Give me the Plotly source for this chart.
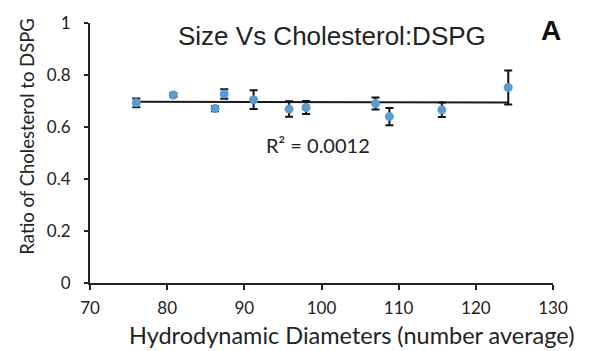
import plotly.graph_objects as go

diameters = [76.0, 80.8, 86.2, 87.4, 91.2, 95.8, 98.0, 107.0, 108.8, 115.6, 124.2]
ratios = [0.693, 0.723, 0.671, 0.727, 0.705, 0.669, 0.675, 0.690, 0.640, 0.666, 0.752]
errors = [0.017, 0.008, 0.010, 0.018, 0.036, 0.030, 0.025, 0.023, 0.033, 0.028, 0.065]
trend_x = [76.0, 124.2]
trend_y = [0.697, 0.694]
x_ticks = [70, 80, 90, 100, 110, 120, 130]
y_ticks = [0, 0.2, 0.4, 0.6, 0.8, 1]
y_tick_labels = ["0", "0.2", "0.4", "0.6", "0.8", "1"]

L, R, T, B = 90, 39, 13, 68
W, H = 592, 351

fig = go.Figure()
fig.add_trace(go.Scatter(x=trend_x, y=trend_y, mode="lines",
                         line=dict(color="#1a1a1a", width=2), showlegend=False))
fig.add_trace(go.Scatter(
    x=diameters, y=ratios, mode="markers",
    marker=dict(color="#5B9BD5", size=9),
    error_y=dict(type="data", array=errors, color="#111111", thickness=2, width=4),
    showlegend=False))

lato = "Lato, Open Sans, sans-serif"
axis_font = dict(family=lato, size=17, color="#222222")
fig.update_layout(
    width=W, height=H,
    margin=dict(l=L, r=R, t=T, b=B),
    paper_bgcolor="white", plot_bgcolor="white",
    xaxis=dict(range=[70, 130], tickvals=x_ticks, showgrid=False, zeroline=False,
               showline=True, linecolor="#222222", linewidth=2,
               ticks="outside", ticklen=5, tickwidth=2, tickcolor="#222222",
               tickfont=axis_font, ticklabelstandoff=4),
    yaxis=dict(range=[0, 1], tickvals=y_ticks, ticktext=y_tick_labels, showgrid=False,
               zeroline=False, showline=True, linecolor="#222222", linewidth=2,
               ticks="outside", ticklen=4, tickwidth=2, tickcolor="#222222",
               tickfont=axis_font, ticklabelstandoff=10),
)

pw = W - L - R
ph = H - T - B


def ann(text, px, py, font, angle=0):
    fig.add_annotation(text=text, x=(px - L) / pw, y=1 - (py - T) / ph,
                       xref="paper", yref="paper", showarrow=False,
                       xanchor="center", yanchor="middle", textangle=angle, font=font)


ann("Size Vs Cholesterol:DSPG", 332, 26, dict(family="Liberation Sans, Arial", size=26, color="#222222"))
ann("<b>A</b>", 551, 21, dict(family="Liberation Sans, Arial", size=28, color="#111111"))
ann("R² = 0.0012", 318, 140, dict(family=lato, size=20, color="#222222"))
ann("Hydrodynamic Diameters (number average)", 351, 337, dict(family=lato, size=23.5, color="#222222"))
ann("Ratio of Cholesterol to DSPG", 27, 131, dict(family=lato, size=18.5, color="#222222"), angle=-90)

fig.write_html("out.html")
